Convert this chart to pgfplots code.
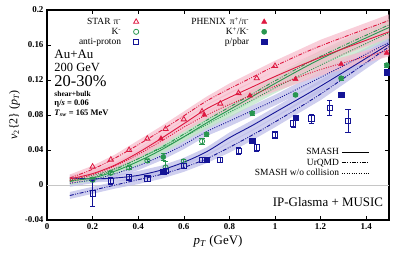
\documentclass[border=0pt]{standalone}
\usepackage{fontspec}
\setmainfont{Liberation Serif}
\usepackage{pgfplots}
\pgfplotsset{compat=1.18}
\usepackage{pgfplotstable}

\definecolor{cR}{RGB}{222,24,64}
\definecolor{cG}{RGB}{40,150,80}
\definecolor{cB}{RGB}{20,20,150}
\definecolor{bR}{RGB}{246,186,202}
\definecolor{bG}{RGB}{190,228,198}
\definecolor{bB}{RGB}{186,186,232}

\tikzset{ud/.style={dash pattern=on 4bp off 1.4bp on 0.9bp off 1.4bp on 0.9bp off 1.4bp},
         wo/.style={dash pattern=on 1bp off 1.4bp}}

\pgfplotstableread{
x y
0.1 0.008
0.2 0.018
0.3 0.031
0.4 0.046
0.5 0.062
0.6 0.079
0.7 0.096
0.8 0.110
0.9 0.123
1.0 0.136
1.2 0.159
1.5 0.188
}\redU
\pgfplotstableread{
x y
0.1 0.007
0.2 0.013
0.3 0.023
0.4 0.037
0.5 0.053
0.6 0.070
0.7 0.087
0.8 0.100
0.9 0.112
1.0 0.124
1.2 0.146
1.5 0.175
}\redS
\pgfplotstableread{
x y
0.1 0.005
0.2 0.012
0.3 0.022
0.4 0.035
0.5 0.050
0.6 0.066
0.7 0.080
0.8 0.092
0.9 0.103
1.0 0.113
1.2 0.132
1.5 0.154
}\redD
\pgfplotstableread{
x y
0.1 0.005
0.2 0.008
0.3 0.016
0.4 0.027
0.5 0.040
0.6 0.055
0.7 0.071
0.8 0.086
0.9 0.101
1.0 0.116
1.2 0.144
1.5 0.180
}\grnS
\pgfplotstableread{
x y
0.1 0.004
0.2 0.009
0.3 0.018
0.4 0.030
0.5 0.043
0.6 0.058
0.7 0.074
0.8 0.089
0.9 0.104
1.0 0.119
1.2 0.147
1.5 0.183
}\grnU
\pgfplotstableread{
x y
0.1 0.006
0.2 0.011
0.3 0.019
0.4 0.030
0.5 0.042
0.6 0.055
0.7 0.069
0.8 0.083
0.9 0.097
1.0 0.111
1.2 0.137
1.5 0.174
}\grnD
\pgfplotstableread{
x y
0.1 0.002
0.2 0.006
0.3 0.013
0.4 0.022
0.5 0.033
0.6 0.046
0.7 0.061
0.8 0.073
0.9 0.085
1.0 0.097
1.2 0.123
1.5 0.163
}\bluD
\pgfplotstableread{
x y
0.1 0.008
0.2 0.007
0.3 0.008
0.4 0.011
0.5 0.017
0.6 0.026
0.7 0.038
0.8 0.054
0.9 0.068
1.0 0.083
1.2 0.113
1.5 0.161
}\bluS
\pgfplotstableread{
x y
0.1 -0.012
0.2 -0.006
0.3 0.000
0.4 0.006
0.5 0.012
0.6 0.020
0.7 0.030
0.8 0.043
0.9 0.057
1.0 0.072
1.2 0.104
1.5 0.158
}\bluU

\begin{document}
\begin{tikzpicture}
\path[use as bounding box] (-47bp,-35bp) rectangle (352bp,220bp);
\begin{axis}[
  scale only axis, width=342bp, height=210bp,
  xmin=0, xmax=1.5, ymin=-0.04, ymax=0.2,
  xtick={0,0.2,0.4,0.6,0.8,1,1.2,1.4},
  ytick={-0.04,0,0.04,0.08,0.12,0.16,0.2},
  tick align=inside, major tick length=4bp,
  axis line style={line width=1.1bp},
  tick style={black, line width=0.6bp},
  ticklabel style={font=\bfseries\fontsize{9}{9}\selectfont, /pgf/number format/assume math mode=true},
  yticklabel style={/pgf/number format/fixed, /pgf/number format/precision=2},
  xticklabel style={/pgf/number format/fixed},
  scaled y ticks=false, scaled x ticks=false,
  xlabel={\textit{p}\textsubscript{\textit{T}} (GeV)},
  ylabel={\textit{v}\textsubscript{2}\{2\} (\textit{p}\textsubscript{\textit{T}})},
  xlabel style={font=\fontsize{13}{13}\selectfont, yshift=1bp},
  ylabel style={font=\fontsize{12}{12}\selectfont, yshift=-2bp},
  legend columns=2,
  legend plot pos=right,
  legend cell align=right,
  legend style={draw=none, fill=none, font=\fontsize{9.5}{9.5}\selectfont,
     at={(0.652,0.978)}, anchor=north east,
     nodes={inner sep=0.5pt, text height=7.6bp, text depth=1.4bp},
     column sep=12bp},
]
\addplot[gray!45, line width=0.6bp, forget plot] coordinates {(0,0) (1.5,0)};

% bands (upper edge forward, lower edge back)
\addplot[fill=bB, fill opacity=0.7, draw=none, forget plot] coordinates {(0.1,0.006)(0.2,0.010)(0.3,0.017)(0.4,0.027)(0.5,0.038)(0.6,0.051)(0.7,0.066)(0.8,0.079)(0.9,0.091)(1.0,0.103)(1.2,0.130)(1.5,0.170)(1.5,0.156)(1.2,0.116)(1.0,0.091)(0.9,0.079)(0.8,0.067)(0.7,0.056)(0.6,0.041)(0.5,0.028)(0.4,0.017)(0.3,0.009)(0.2,0.002)(0.1,-0.002)};
\addplot[fill=bB, fill opacity=0.7, draw=none, forget plot] coordinates {(0.1,0.012)(0.2,0.011)(0.3,0.012)(0.4,0.016)(0.5,0.022)(0.6,0.031)(0.7,0.043)(0.8,0.060)(0.9,0.074)(1.0,0.089)(1.2,0.120)(1.5,0.168)(1.5,0.154)(1.2,0.106)(1.0,0.077)(0.9,0.062)(0.8,0.048)(0.7,0.033)(0.6,0.021)(0.5,0.012)(0.4,0.006)(0.3,0.004)(0.2,0.003)(0.1,0.004)};
\addplot[fill=bB, fill opacity=0.7, draw=none, forget plot] coordinates {(0.1,-0.008)(0.2,-0.002)(0.3,0.004)(0.4,0.011)(0.5,0.017)(0.6,0.025)(0.7,0.035)(0.8,0.049)(0.9,0.063)(1.0,0.078)(1.2,0.111)(1.5,0.165)(1.5,0.151)(1.2,0.097)(1.0,0.066)(0.9,0.051)(0.8,0.037)(0.7,0.025)(0.6,0.015)(0.5,0.007)(0.4,0.001)(0.3,-0.004)(0.2,-0.010)(0.1,-0.016)};
\addplot[fill=bG, fill opacity=0.7, draw=none, forget plot] coordinates {(0.1,0.010)(0.2,0.015)(0.3,0.023)(0.4,0.035)(0.5,0.047)(0.6,0.060)(0.7,0.074)(0.8,0.089)(0.9,0.103)(1.0,0.117)(1.2,0.144)(1.5,0.181)(1.5,0.167)(1.2,0.130)(1.0,0.105)(0.9,0.091)(0.8,0.077)(0.7,0.064)(0.6,0.050)(0.5,0.037)(0.4,0.025)(0.3,0.015)(0.2,0.007)(0.1,0.002)};
\addplot[fill=bG, fill opacity=0.7, draw=none, forget plot] coordinates {(0.1,0.009)(0.2,0.012)(0.3,0.020)(0.4,0.032)(0.5,0.045)(0.6,0.060)(0.7,0.076)(0.8,0.092)(0.9,0.107)(1.0,0.122)(1.2,0.151)(1.5,0.187)(1.5,0.173)(1.2,0.137)(1.0,0.110)(0.9,0.095)(0.8,0.080)(0.7,0.066)(0.6,0.050)(0.5,0.035)(0.4,0.022)(0.3,0.012)(0.2,0.004)(0.1,0.001)};
\addplot[fill=bG, fill opacity=0.7, draw=none, forget plot] coordinates {(0.1,0.008)(0.2,0.013)(0.3,0.022)(0.4,0.035)(0.5,0.048)(0.6,0.063)(0.7,0.079)(0.8,0.095)(0.9,0.110)(1.0,0.125)(1.2,0.154)(1.5,0.190)(1.5,0.176)(1.2,0.140)(1.0,0.113)(0.9,0.098)(0.8,0.083)(0.7,0.069)(0.6,0.053)(0.5,0.038)(0.4,0.025)(0.3,0.014)(0.2,0.005)(0.1,0.000)};
\addplot[fill=bR, fill opacity=0.7, draw=none, forget plot] coordinates {(0.1,0.009)(0.2,0.016)(0.3,0.026)(0.4,0.040)(0.5,0.055)(0.6,0.071)(0.7,0.085)(0.8,0.098)(0.9,0.109)(1.0,0.119)(1.2,0.139)(1.5,0.161)(1.5,0.147)(1.2,0.125)(1.0,0.107)(0.9,0.097)(0.8,0.086)(0.7,0.075)(0.6,0.061)(0.5,0.045)(0.4,0.030)(0.3,0.018)(0.2,0.008)(0.1,0.001)};
\addplot[fill=bR, fill opacity=0.7, draw=none, forget plot] coordinates {(0.1,0.011)(0.2,0.017)(0.3,0.027)(0.4,0.042)(0.5,0.058)(0.6,0.075)(0.7,0.092)(0.8,0.106)(0.9,0.118)(1.0,0.130)(1.2,0.153)(1.5,0.182)(1.5,0.168)(1.2,0.139)(1.0,0.118)(0.9,0.106)(0.8,0.094)(0.7,0.082)(0.6,0.065)(0.5,0.048)(0.4,0.032)(0.3,0.019)(0.2,0.009)(0.1,0.003)};
\addplot[fill=bR, fill opacity=0.7, draw=none, forget plot] coordinates {(0.1,0.012)(0.2,0.022)(0.3,0.035)(0.4,0.051)(0.5,0.067)(0.6,0.084)(0.7,0.101)(0.8,0.116)(0.9,0.129)(1.0,0.142)(1.2,0.166)(1.5,0.195)(1.5,0.181)(1.2,0.152)(1.0,0.130)(0.9,0.117)(0.8,0.104)(0.7,0.091)(0.6,0.074)(0.5,0.057)(0.4,0.041)(0.3,0.027)(0.2,0.014)(0.1,0.004)};

\addplot[cB, line width=0.9bp, wo, smooth, forget plot] table[x=x,y=y]{\bluD};
\addplot[cB, line width=0.9bp, smooth, forget plot] table[x=x,y=y]{\bluS};
\addplot[cB, line width=0.9bp, ud, smooth, forget plot] table[x=x,y=y]{\bluU};
\addplot[cG, line width=0.9bp, wo, smooth, forget plot] table[x=x,y=y]{\grnD};
\addplot[cG, line width=0.9bp, smooth, forget plot] table[x=x,y=y]{\grnS};
\addplot[cG, line width=0.9bp, ud, smooth, forget plot] table[x=x,y=y]{\grnU};
\addplot[cR, line width=0.9bp, wo, smooth, forget plot] table[x=x,y=y]{\redD};
\addplot[cR, line width=0.9bp, smooth, forget plot] table[x=x,y=y]{\redS};
\addplot[cR, line width=0.9bp, ud, smooth, forget plot] table[x=x,y=y]{\redU};

% STAR pi
\addplot[only marks, cR, mark=triangle, mark size=3bp, mark options={solid, fill=white, line width=0.8bp}]
 coordinates {(0.2,0.021)(0.28,0.029)(0.36,0.040)(0.44,0.053)(0.52,0.064)(0.6,0.075)(0.68,0.084)(0.76,0.093)(0.84,0.105)(0.92,0.122)(1.0,0.136)};
\addlegendentry{STAR\hspace{3bp}π\textsuperscript{-}}
% PHENIX pi
\addplot[only marks, cR, mark=triangle*, mark size=3bp, mark options={solid}]
 coordinates {(0.5,0.053)(0.69,0.080)(0.89,0.102)(1.09,0.121)(1.29,0.138)(1.49,0.151)};
\addlegendentry{\hspace*{40bp}PHENIX\hspace{4bp}π\textsuperscript{+}/π\textsuperscript{-}}
% STAR K
\addplot[only marks, cG, mark=o, mark size=2.6bp, mark options={solid, line width=0.8bp},
  error bars/.cd, y dir=both, y explicit, error bar style={line width=0.7bp}]
 coordinates {(0.2,0.006)+-(0,0.002)(0.28,0.014)+-(0,0.002)(0.36,0.020)+-(0,0.002)(0.44,0.028)+-(0,0.002)(0.52,0.020)+-(0,0.007)(0.6,0.027)+-(0,0.002)(0.68,0.050)+-(0,0.003)};
\addlegendentry{K\textsuperscript{-}}
% PHENIX K
\addplot[only marks, cG, mark=*, mark size=2.6bp, mark options={solid},
  error bars/.cd, y dir=both, y explicit, error bar style={line width=0.7bp}]
 coordinates {(0.51,0.032)+-(0,0.004)(0.7,0.058)+-(0,0.002)(0.9,0.082)+-(0,0.002)(1.09,0.103)+-(0,0.002)(1.29,0.122)+-(0,0.002)(1.49,0.137)+-(0,0.002)};
\addlegendentry{K\textsuperscript{+}/K\textsuperscript{-}}
% STAR anti-proton
\addplot[only marks, cB, mark=square, mark size=2.6bp, mark options={solid, line width=0.8bp},
  error bars/.cd, y dir=both, y explicit, error bar style={line width=0.7bp}]
 coordinates {(0.2,-0.0095)+-(0,0.0145)(0.28,0.005)+-(0,0.004)(0.36,0.0088)+-(0,0.003)(0.44,0.0076)+-(0,0.003)(0.52,0.016)+-(0,0.003)(0.6,0.022)+-(0,0.003)(0.68,0.0286)+-(0,0.003)(0.76,0.0286)+-(0,0.003)(0.84,0.039)+-(0,0.004)(0.92,0.043)+-(0,0.004)(1.0,0.057)+-(0,0.004)(1.08,0.0705)+-(0,0.004)(1.16,0.076)+-(0,0.005)(1.24,0.088)+-(0,0.0085)(1.32,0.0735)+-(0,0.013)};
\addlegendentry{anti-proton}
% PHENIX p
\addplot[only marks, cB, mark=square*, mark size=2.6bp, mark options={solid}]
 coordinates {(0.51,0.015)(0.7,0.029)(0.9,0.051)(1.09,0.077)(1.29,0.103)(1.49,0.129)};
\addlegendentry{p/pbar}

\node[inner sep=0pt, anchor=base west, font=\fontsize{13}{13}\selectfont] at (axis cs:0.032,0.1448) {Au+Au};
\node[inner sep=0pt, anchor=base west, font=\fontsize{12.5}{12.5}\selectfont] at (axis cs:0.032,0.1295) {200 GeV};
\node[inner sep=0pt, anchor=base west, font=\fontsize{16.5}{16.5}\selectfont] at (axis cs:0.032,0.1131) {20-30\%};
\node[inner sep=0pt, anchor=base west, font=\bfseries\fontsize{7.5}{7.5}\selectfont] at (axis cs:0.032,0.1017) {shear+bulk};
\node[inner sep=0pt, anchor=base west, font=\bfseries\fontsize{8.5}{8.5}\selectfont] at (axis cs:0.032,0.0903) {η/\textit{s} = 0.06};
\node[inner sep=0pt, anchor=base west, font=\bfseries\fontsize{8.5}{8.5}\selectfont] at (axis cs:0.032,0.0794) {\textit{T}\textsubscript{\textit{sw}} = 165 MeV};
\node[inner sep=0pt, anchor=base east, font=\fontsize{13}{13}\selectfont] at (axis cs:1.475,-0.0248) {IP-Glasma + MUSIC};
\end{axis}

\begin{axis}[
  scale only axis, width=342bp, height=210bp, hide axis,
  xmin=0, xmax=1.5, ymin=-0.04, ymax=0.2,
  legend plot pos=right, legend cell align=right,
  legend image code/.code={\draw[#1] (0bp,0bp) -- (27bp,0bp);},
  legend style={draw=none, fill=none, font=\fontsize{9.5}{9.5}\selectfont,
     at={(0.952,0.357)}, anchor=north east,
     nodes={inner sep=0.5pt, text height=7bp, text depth=2.3bp}, column sep=2bp},
]
\addplot[draw=none, forget plot] coordinates {(0,0) (1.5,0.2)};
\addlegendimage{black, line width=0.9bp}
\addlegendentry{SMASH}
\addlegendimage{black, line width=0.9bp, ud}
\addlegendentry{UrQMD}
\addlegendimage{black, line width=0.9bp, wo}
\addlegendentry{SMASH w/o collision}
\end{axis}
\end{tikzpicture}
\end{document}
